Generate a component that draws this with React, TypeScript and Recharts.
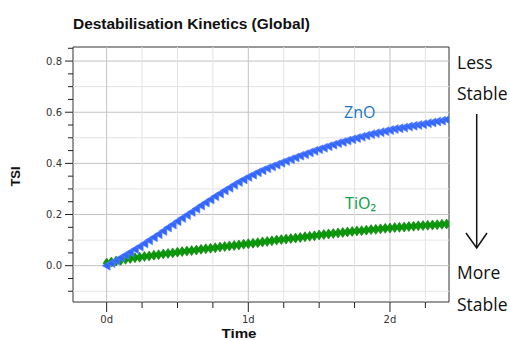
import React from 'react';
import { LineChart, Line, XAxis, YAxis, ReferenceLine, ReferenceArea } from 'recharts';

const timeHours = [0, 0.8, 1.6, 2.4, 3.2, 4, 4.8, 5.6, 6.4, 7.2, 8, 8.8, 9.6, 10.4, 11.2, 12, 12.8, 13.6, 14.4, 15.2, 16, 16.8, 17.6, 18.4, 19.2, 20, 20.8, 21.6, 22.4, 23.2, 24, 24.8, 25.6, 26.4, 27.2, 28, 28.8, 29.6, 30.4, 31.2, 32, 32.8, 33.6, 34.4, 35.2, 36, 36.8, 37.6, 38.4, 39.2, 40, 40.8, 41.6, 42.4, 43.2, 44, 44.8, 45.6, 46.4, 47.2, 48, 48.8, 49.6, 50.4, 51.2, 52, 52.8, 53.6, 54.4, 55.2, 56, 56.8, 57.6];

const znoTSI = [0.000, 0.010, 0.020, 0.031, 0.042, 0.053, 0.064, 0.075, 0.087, 0.099,
  0.111, 0.123, 0.136, 0.149, 0.161, 0.174, 0.186, 0.198, 0.210, 0.223,
  0.235, 0.247, 0.259, 0.271, 0.282, 0.294, 0.305, 0.316, 0.327, 0.337,
  0.347, 0.356, 0.365, 0.373, 0.381, 0.388, 0.395, 0.402, 0.409, 0.416,
  0.423, 0.430, 0.436, 0.443, 0.449, 0.455, 0.461, 0.467, 0.473, 0.479,
  0.484, 0.489, 0.494, 0.499, 0.504, 0.509, 0.514, 0.518, 0.522, 0.526,
  0.530, 0.534, 0.537, 0.540, 0.544, 0.547, 0.550, 0.553, 0.557, 0.560,
  0.564, 0.567, 0.571];

const tio2TSI = [0.010, 0.014, 0.018, 0.021, 0.025, 0.028, 0.031, 0.033, 0.036, 0.038,
  0.041, 0.043, 0.046, 0.048, 0.050, 0.053, 0.055, 0.057, 0.059, 0.061,
  0.064, 0.066, 0.068, 0.070, 0.073, 0.075, 0.077, 0.079, 0.081, 0.084,
  0.086, 0.088, 0.090, 0.093, 0.095, 0.097, 0.100, 0.102, 0.104, 0.106,
  0.108, 0.110, 0.113, 0.115, 0.117, 0.120, 0.122, 0.124, 0.126, 0.128,
  0.130, 0.132, 0.134, 0.136, 0.137, 0.139, 0.141, 0.142, 0.144, 0.146,
  0.147, 0.149, 0.150, 0.151, 0.153, 0.154, 0.156, 0.157, 0.158, 0.159,
  0.160, 0.162, 0.163];

const xDomain = [-5.7, 58];
const yDomain = [-0.142, 0.855];
const xTicks = [0, 6, 12, 18, 24, 30, 36, 42, 48, 54];
const xMajorTicks = [0, 24, 48];
const xTickLabels = ['0d', '1d', '2d'];
const yTicks = [-0.1, -0.05, 0, 0.05, 0.1, 0.15, 0.2, 0.25, 0.3, 0.35, 0.4, 0.45, 0.5, 0.55, 0.6, 0.65, 0.7, 0.75, 0.8, 0.85];
const yMajorTicks = [0, 0.2, 0.4, 0.6, 0.8];
const yGridLines = [-0.1, 0, 0.1, 0.2, 0.3, 0.4, 0.5, 0.6, 0.7, 0.8];

const data = timeHours.map((t, i) => ({ t, zno: znoTSI[i], tio2: tio2TSI[i] }));

const near = (a: number, b: number) => Math.abs(a - b) < 1e-6;
const isYMajor = (v: number) => yMajorTicks.some((m) => near(m, v));
const isXMajor = (v: number) => xMajorTicks.some((m) => near(m, v));

const YTick = (props: any) => {
  const { x, y, payload } = props;
  const v = payload.value as number;
  const major = isYMajor(v);
  const len = major ? 8 : 5;
  return (
    <g>
      <line x1={x - len} y1={y} x2={x} y2={y} stroke="#222" strokeWidth={1} />
      {major && (
        <text x={x - len - 3} y={y} dy={3.5} textAnchor="end" fontFamily="DejaVu Sans" fontSize={10} fill="#333">
          {v.toFixed(1)}
        </text>
      )}
    </g>
  );
};

const XTick = (props: any) => {
  const { x, y, payload } = props;
  const v = payload.value as number;
  const major = isXMajor(v);
  const len = major ? 10 : 6;
  const idx = xMajorTicks.findIndex((m) => near(m, v));
  return (
    <g>
      <line x1={x} y1={y} x2={x} y2={y + len} stroke="#222" strokeWidth={1} />
      {major && (
        <text x={x} y={y + 21} textAnchor="middle" fontFamily="DejaVu Sans" fontSize={10} fill="#333">
          {xTickLabels[idx]}
        </text>
      )}
    </g>
  );
};

const TriangleDot = (props: any) => {
  const { cx, cy, index } = props;
  if (cx == null || cy == null) return <g key={`zd-${index}`} />;
  return (
    <polygon
      key={`zd-${index}`}
      points={`${cx - 4.5},${cy} ${cx + 3.5},${cy - 4.5} ${cx + 3.5},${cy + 4.5}`}
      fill="#3366ff"
      stroke="#5a84ff"
      strokeWidth={0.6}
    />
  );
};

const DiamondDot = (props: any) => {
  const { cx, cy, index } = props;
  if (cx == null || cy == null) return <g key={`td-${index}`} />;
  return (
    <polygon
      key={`td-${index}`}
      points={`${cx},${cy - 5} ${cx + 3.5},${cy} ${cx},${cy + 5} ${cx - 3.5},${cy}`}
      fill="#0a9a0a"
      stroke="#067a06"
      strokeWidth={0.6}
    />
  );
};

export default function App() {
  return (
    <div style={{ position: 'absolute', left: 0, top: 0, width: 510, height: 340, background: '#fff' }}>
      <LineChart
        width={510}
        height={340}
        data={data}
        margin={{ top: 47, right: 61, bottom: 8, left: 28 }}
      >
        <XAxis
          dataKey="t"
          type="number"
          domain={xDomain}
          allowDataOverflow
          ticks={xTicks}
          tick={<XTick />}
          tickLine={false}
          axisLine={false}
          tickSize={0}
          tickMargin={0}
          height={30}
          interval={0}
        />
        <YAxis
          type="number"
          domain={yDomain}
          allowDataOverflow
          ticks={yTicks}
          tick={<YTick />}
          tickLine={false}
          axisLine={false}
          tickSize={0}
          tickMargin={0}
          width={45}
          interval={0}
        />
        {yGridLines.map((v) => (
          <ReferenceLine key={`gy-${v}`} y={v} stroke={isYMajor(v) ? '#c2c2c2' : '#e3e3e3'} strokeWidth={1} />
        ))}
        {xTicks.map((v) => (
          <ReferenceLine key={`gx-${v}`} x={v} stroke={isXMajor(v) ? '#c2c2c2' : '#e3e3e3'} strokeWidth={1} />
        ))}
        <Line
          dataKey="tio2"
          stroke="#0a9a0a"
          strokeWidth={2}
          dot={(p: any) => <DiamondDot {...p} key={`td-${p.index}`} />}
          activeDot={false}
          isAnimationActive={false}
        />
        <Line
          dataKey="zno"
          stroke="#3366ff"
          strokeWidth={2}
          dot={(p: any) => <TriangleDot {...p} key={`zd-${p.index}`} />}
          activeDot={false}
          isAnimationActive={false}
        />
        <ReferenceArea
          x1={xDomain[0]}
          x2={xDomain[1]}
          y1={yDomain[0]}
          y2={yDomain[1]}
          fill="none"
          fillOpacity={0}
          stroke="#333"
          strokeWidth={1}
          ifOverflow="visible"
        />
      </LineChart>
      <svg
        width={510}
        height={340}
        style={{ position: 'absolute', left: 0, top: 0, pointerEvents: 'none' }}
      >
        <text x={73} y={29} fontFamily="Liberation Sans, Arial" fontWeight="bold" fontSize={14.5} textLength={237} lengthAdjust="spacingAndGlyphs" fill="#111">
          Destabilisation Kinetics (Global)
        </text>
        <text
          x={0}
          y={0}
          transform="translate(19.5,176.5) rotate(-90)"
          textAnchor="middle"
          fontFamily="Liberation Sans, Arial"
          fontWeight="bold"
          fontSize={13}
          fill="#111"
        >
          TSI
        </text>
        <text x={239} y={337.5} textAnchor="middle" fontFamily="Liberation Sans, Arial" fontWeight="bold" fontSize={13.5} textLength={35} lengthAdjust="spacingAndGlyphs" fill="#111">
          Time
        </text>
        <text x={344} y={118} fontFamily="Open Sans" fontSize={16} fill="#2176c2">
          ZnO
        </text>
        <text x={345} y={209} fontFamily="Noto Sans" fontSize={16} fill="#12a04a">
          TiO₂
        </text>
        <text x={457} y={69} fontFamily="Open Sans" fontSize={17.5} fill="#111">Less</text>
        <text x={457} y={100} fontFamily="Open Sans" fontSize={17.5} fill="#111">Stable</text>
        <line x1={476.7} y1={114} x2={476.7} y2={248} stroke="#111" strokeWidth={1.5} />
        <polyline points="466,233 476.7,248 487,233" fill="none" stroke="#111" strokeWidth={1.5} />
        <text x={457} y={279} fontFamily="Open Sans" fontSize={17.5} fill="#111">More</text>
        <text x={457} y={311} fontFamily="Open Sans" fontSize={17.5} fill="#111">Stable</text>
      </svg>
    </div>
  );
}
